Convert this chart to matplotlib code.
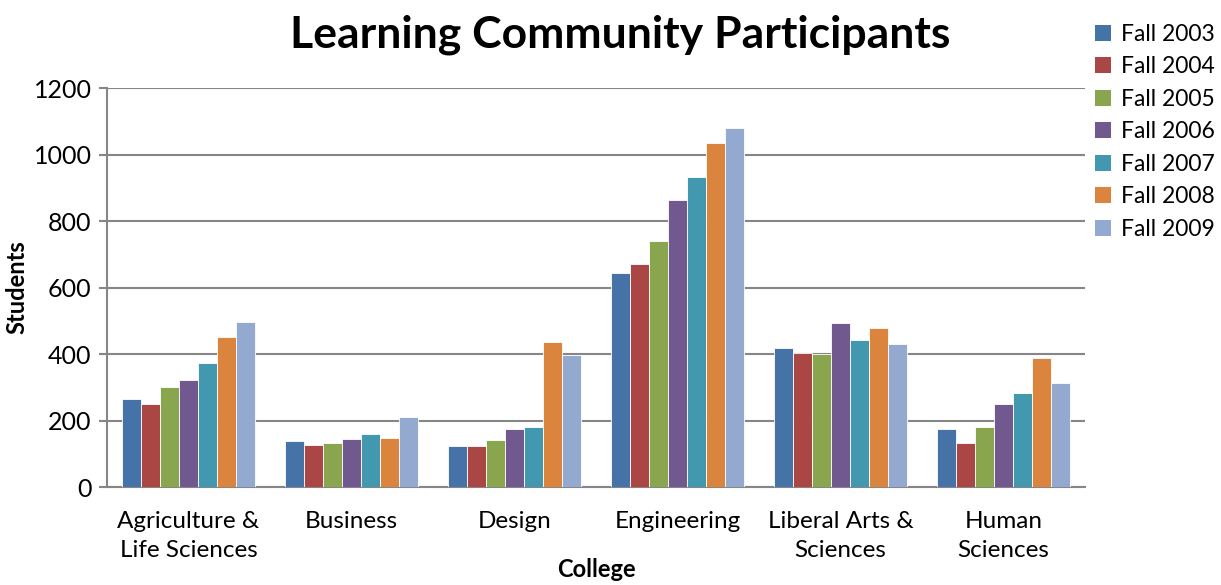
import numpy as np
import matplotlib.pyplot as plt
from matplotlib.patches import Patch

plt.rcParams['font.family'] = ['Lato', 'DejaVu Sans']

colleges = ["Agriculture &\nLife Sciences", "Business", "Design", "Engineering",
            "Liberal Arts &\nSciences", "Human\nSciences"]
years = ["Fall 2003", "Fall 2004", "Fall 2005", "Fall 2006", "Fall 2007", "Fall 2008", "Fall 2009"]

fall_2003 = [265, 138, 122, 643, 417, 175]
fall_2004 = [249, 125, 122, 671, 403, 132]
fall_2005 = [302, 131, 140, 739, 400, 181]
fall_2006 = [321, 144, 174, 864, 492, 249]
fall_2007 = [373, 159, 182, 932, 442, 283]
fall_2008 = [451, 146, 435, 1034, 477, 389]
fall_2009 = [495, 210, 398, 1079, 429, 314]

series = [fall_2003, fall_2004, fall_2005, fall_2006, fall_2007, fall_2008, fall_2009]
colors = ["#4572A7", "#AA4643", "#89A54E", "#71588F", "#4198AF", "#DB843D", "#93A9CF"]

fig = plt.figure(figsize=(12.21, 5.85), dpi=100)
ax = fig.add_axes([0.0876, 0.1675, 0.801, 0.682])

x = np.arange(len(colleges))
n = len(series)
group_w = 0.82
w = group_w / n
for i, (vals, c) in enumerate(zip(series, colors)):
    ax.bar(x - group_w / 2 + w * (i + 0.5), vals, width=w, color=c,
           edgecolor="white", linewidth=0.6, zorder=3, label=years[i])

ax.set_xlim(-0.5, len(colleges) - 0.5)
ax.set_ylim(0, 1200)
ax.set_yticks(range(0, 1201, 200))
ax.yaxis.grid(True, color="#868686", linewidth=1.5, zorder=0)
ax.set_axisbelow(True)
ax.set_xticks(x)
ax.set_xticklabels(colleges, fontsize=17.5, linespacing=1.5)
ax.tick_params(axis="x", length=0, pad=17)
ax.tick_params(axis="y", labelsize=18, length=6, color="#868686", width=1.5, pad=5)

for side in ["top", "right"]:
    ax.spines[side].set_visible(False)
for side in ["left", "bottom"]:
    ax.spines[side].set_color("#868686")
    ax.spines[side].set_linewidth(1.5)

ax.set_ylabel("Students", fontsize=17, fontweight="bold", labelpad=4)
ax.set_xlabel("College", fontsize=17, fontweight="bold", labelpad=-2)

fig.text(0.508, 0.94, "Learning Community Participants", ha="center", va="center",
         fontsize=32, fontweight="bold")

handles = [Patch(facecolor=c, edgecolor="none") for c in colors]
fig.legend(handles, years, loc="upper left", bbox_to_anchor=(0.889, 0.975),
           frameon=False, fontsize=16.5, handlelength=0.7, handleheight=0.7,
           handletextpad=0.45, labelspacing=0.5, borderaxespad=0)

fig.savefig("out.png", dpi=100)
